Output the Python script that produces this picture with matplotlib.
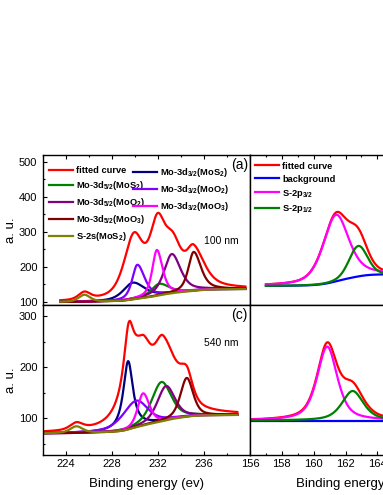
import numpy as np
import matplotlib
matplotlib.use("Agg")
import matplotlib.pyplot as plt
from matplotlib.ticker import MultipleLocator, FixedLocator

plt.rcParams['font.family'] = ['Liberation Sans', 'DejaVu Sans']
plt.rcParams['mathtext.fontset'] = 'custom'
plt.rcParams['mathtext.rm'] = 'Liberation Sans:bold'
plt.rcParams['mathtext.it'] = 'Liberation Sans:bold'
plt.rcParams['mathtext.bf'] = 'Liberation Sans:bold'
plt.rcParams['mathtext.default'] = 'rm'

# ---------------- data ----------------
mo_labels = ['Mo-3d$_{3/2}$(MoS$_2$)', 'Mo-3d$_{5/2}$(MoS$_2$)',
             'Mo-3d$_{3/2}$(MoO$_2$)', 'Mo-3d$_{5/2}$(MoO$_2$)',
             'Mo-3d$_{3/2}$(MoO$_3$)', 'Mo-3d$_{5/2}$(MoO$_3$)',
             'S-2s(MoS$_2$)']
s_labels = ['S-2p$_{3/2}$', 'S-2p$_{1/2}$']

# ---- panel (a), Mo 3d, 100 nm ----
# fitted components: centre (eV), height above background, FWHM low/high side (eV), Lorentz fraction
a_centers = [229.8, 232.1, 230.2, 233.2, 231.9, 235.1, 225.6]
a_heights = [48, 33, 97, 112, 131, 111, 20]
a_fwhm_lo = [2.0, 1.6, 1.05, 1.6, 0.95, 1.1, 1.2]
a_fwhm_hi = [2.4, 2.0, 1.5, 1.8, 1.15, 1.5, 1.2]
a_eta = [0.6, 0.6, 0.6, 0.6, 0.6, 0.6, 0.5]
# fitted envelope (red curve)
a_fit_centers = [229.9, 231.95, 233.3, 235.1, 225.6]
a_fit_heights = [170, 177, 119, 105, 21]
a_fit_fwhm_lo = [2.0, 1.6, 1.8, 1.5, 1.2]
a_fit_fwhm_hi = [2.0, 1.6, 1.8, 2.2, 1.2]
a_fit_eta = [0.6, 0.6, 0.6, 0.6, 0.5]
a_range = (223.5, 239.6)
a_background = (100, 137)

# ---- panel (c), Mo 3d, 540 nm ----
c_centers = [229.4, 232.3, 230.1, 232.7, 230.7, 234.5, 224.9]
c_heights = [134, 77, 52, 67, 63, 76, 13]
c_fwhm_lo = [1.0, 2.0, 2.8, 1.8, 1.1, 1.3, 1.3]
c_fwhm_hi = [1.0, 2.0, 2.4, 1.8, 1.3, 1.3, 1.3]
c_eta = [0.9, 0.5, 0.5, 0.5, 0.5, 0.5, 0.5]
c_fit_centers = [229.45, 230.6, 232.45, 234.5, 224.9]
c_fit_heights = [111, 140, 137, 55, 13]
c_fit_fwhm_lo = [1.0, 3.0, 1.9, 1.4, 1.3]
c_fit_fwhm_hi = [1.0, 2.0, 2.8, 1.2, 1.3]
c_fit_eta = [0.9, 0.6, 0.6, 0.6, 0.5]
c_range = (222.0, 238.9)
c_background = (70, 106)

# ---- panel (b), S 2p, 100 nm ----
b_centers = [161.4, 162.8]
b_heights = [190, 87]
b_fwhm_lo = [1.9, 1.35]
b_fwhm_hi = [1.9, 1.35]
b_eta = [0.5, 0.2]
b_range = (157.0, 169.0)
b_background = (146, 180)

# ---- panel (d), S 2p, 540 nm ----
d_centers = [160.85, 162.45]
d_heights = [145, 58]
d_fwhm_lo = [1.5, 1.6]
d_fwhm_hi = [1.5, 1.6]
d_eta = [0.6, 0.6]
d_range = (156.0, 169.0)
d_background = (95, 95)

panel_tags = ['(a)', '(c)']
thickness = ['100 nm', '540 nm']

# ---------------- styles ----------------
mo_colors = ['#000080', '#008000', '#8000FF', '#800080', '#FF00FF', '#800000', '#808000']
s_colors = ['#FF00FF', '#008000']
LW = 1.6


def pseudo_voigt(x, c, h, wlo, whi, eta):
    w = np.where(x < c, wlo, whi)
    u = (x - c) / w
    return h * (eta / (1 + 4 * u ** 2) + (1 - eta) * np.exp(-4 * np.log(2) * u ** 2))


def peak_set(x, centers, heights, wlo, whi, eta):
    return [pseudo_voigt(x, c, h, a, b, e) for c, h, a, b, e in zip(centers, heights, wlo, whi, eta)]


def shirley(x, signal, lo, hi):
    cum = np.concatenate([[0], np.cumsum((signal[1:] + signal[:-1]) / 2 * np.diff(x))])
    return lo + (hi - lo) * cum / cum[-1]


W, H = 383, 495
fig = plt.figure(figsize=(W / 100, H / 100), dpi=100)


def px_axes(x0, y0, x1, y1):
    return fig.add_axes([x0 / W, 1 - y1 / H, (x1 - x0) / W, (y1 - y0) / H])


ax_a = px_axes(43, 155, 250, 305)
ax_b = px_axes(250, 155, 457, 305)
ax_c = px_axes(43, 305, 250, 455)
ax_d = px_axes(250, 305, 457, 455)

TICKFS = 8
for ax in (ax_a, ax_b, ax_c, ax_d):
    for s in ax.spines.values():
        s.set_linewidth(1.0)
    ax.tick_params(which='both', direction='in', width=0.8, labelsize=TICKFS, pad=3)
    ax.tick_params(which='major', length=3.2)
    ax.tick_params(which='minor', length=1.7)

for ax in (ax_a, ax_c):
    ax.set_xlim(222, 240)
    ax.xaxis.set_major_locator(FixedLocator([224, 228, 232, 236]))
    ax.xaxis.set_minor_locator(MultipleLocator(2))
    ax.yaxis.set_major_locator(MultipleLocator(100))
    ax.yaxis.set_minor_locator(MultipleLocator(50))
    ax.tick_params(which='both', axis='y', left=True, right=False, pad=4)
    ax.set_ylabel('a. u.', fontsize=9.5)
    ax.yaxis.set_label_coords(-0.125, 0.5)

for ax in (ax_b, ax_d):
    ax.set_xlim(156, 169)
    ax.xaxis.set_major_locator(MultipleLocator(2))
    ax.xaxis.set_minor_locator(MultipleLocator(1))
    ax.tick_params(which='both', axis='y', left=False, right=True, labelleft=False)

ax_a.set_ylim(91.4, 520)
ax_b.set_ylim(91.4, 520)
ax_c.set_ylim(27.5, 321.6)
ax_d.set_ylim(27.5, 321.6)

for ax in (ax_a, ax_b):
    ax.tick_params(which='both', axis='x', top=True, bottom=False, labelbottom=False)
for ax in (ax_c, ax_d):
    ax.tick_params(which='both', axis='x', top=False, bottom=True)
    ax.set_xlabel('Binding energy (ev)', fontsize=9.5)
    ax.xaxis.set_label_coords(0.5, -0.15)

legprop = {'weight': 'bold', 'size': 6.7}
legkw = dict(loc='upper left', frameon=False, prop=legprop, handlelength=2.6,
             handletextpad=0.3, labelspacing=0.42, borderpad=0, borderaxespad=0)

# ---------------- Mo 3d panels ----------------
mo_sets = [
    (ax_a, a_range, a_background,
     (a_centers, a_heights, a_fwhm_lo, a_fwhm_hi, a_eta),
     (a_fit_centers, a_fit_heights, a_fit_fwhm_lo, a_fit_fwhm_hi, a_fit_eta)),
    (ax_c, c_range, c_background,
     (c_centers, c_heights, c_fwhm_lo, c_fwhm_hi, c_eta),
     (c_fit_centers, c_fit_heights, c_fit_fwhm_lo, c_fit_fwhm_hi, c_fit_eta)),
]
for i, (ax, rng, bgr, comp, env) in enumerate(mo_sets):
    x = np.linspace(rng[0], rng[1], 700)
    env_sum = np.sum(peak_set(x, *env), axis=0)
    bg = shirley(x, env_sum, *bgr)
    h_fit, = ax.plot(x, bg + env_sum, color='#FF0000', lw=LW, label='fitted curve')
    hs = []
    for p, col, lab in zip(peak_set(x, *comp), mo_colors, mo_labels):
        hl, = ax.plot(x, bg + p, color=col, lw=LW, label=lab)
        hs.append(hl)
    ax.text(0.948, 0.935, panel_tags[i], transform=ax.transAxes, ha='center', va='center', fontsize=10)
    ax.text(0.86, [0.43, 0.747][i], thickness[i], transform=ax.transAxes, ha='center', va='center', fontsize=7.5)
    if i == 0:
        col1 = [h_fit, hs[1], hs[3], hs[5], hs[6]]
        col2 = [hs[0], hs[2], hs[4]]
        leg1 = ax.legend(col1, [h.get_label() for h in col1], bbox_to_anchor=(0.029, 0.925), **legkw)
        ax.add_artist(leg1)
        ax.legend(col2, [h.get_label() for h in col2], bbox_to_anchor=(0.435, 0.925), **legkw)

# ---------------- S 2p panels ----------------
s_sets = [(ax_b, b_range, b_background, (b_centers, b_heights, b_fwhm_lo, b_fwhm_hi, b_eta)),
          (ax_d, d_range, d_background, (d_centers, d_heights, d_fwhm_lo, d_fwhm_hi, d_eta))]
for i, (ax, rng, bgr, comp) in enumerate(s_sets):
    x = np.linspace(rng[0], rng[1], 600)
    peaks = peak_set(x, *comp)
    total = np.sum(peaks, axis=0)
    bg = shirley(x, total, *bgr)
    h_fit, = ax.plot(x, bg + total, color='#FF0000', lw=LW, label='fitted curve')
    h_bg, = ax.plot(x, bg, color='#0000FF', lw=LW, label='background')
    hs = []
    for p, col, lab in zip(peaks, s_colors, s_labels):
        hl, = ax.plot(x, bg + p, color=col, lw=LW, label=lab)
        hs.append(hl)
    if i == 0:
        ax.legend([h_fit, h_bg] + hs, ['fitted curve', 'background'] + s_labels,
                  bbox_to_anchor=(0.024, 0.955), **legkw)

fig.savefig('out.png', dpi=100)
